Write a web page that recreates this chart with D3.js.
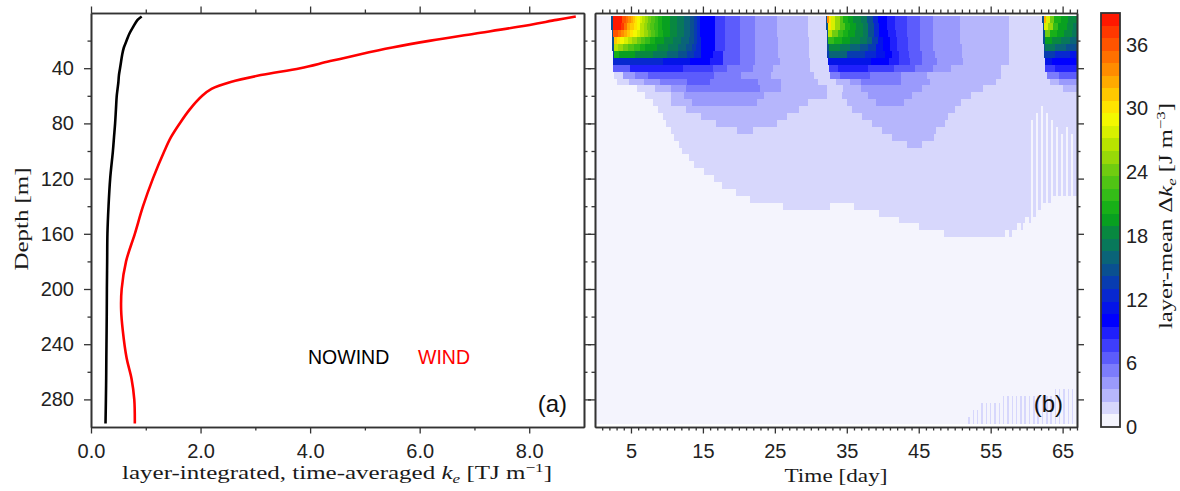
<!DOCTYPE html>
<html>
<head>
<meta charset="utf-8">
<script src="https://cdn.jsdelivr.net/npm/d3@7"></script>
<style>
  body { margin: 0; background: #fff; }
  svg { display: block; }
</style>
</head>
<body>
<div id="chart"></div>
<script>
// ---------------- data ----------------
// panel (a): layer-integrated, time-averaged ke profiles [TJ m^-1]
const profileDepth = [2.5, 5, 10, 15, 20, 25, 30, 35, 40, 45, 50, 55, 60, 70, 80, 90, 100, 120, 140, 160, 180, 200, 215, 230, 250, 265, 280, 297.5];
const nowindKe = [0.925, 0.85, 0.77, 0.70, 0.65, 0.60, 0.57, 0.55, 0.53, 0.51, 0.50, 0.485, 0.47, 0.455, 0.44, 0.42, 0.40, 0.35, 0.32, 0.30, 0.295, 0.29, 0.288, 0.285, 0.28, 0.277, 0.272, 0.265];
const windKe = [8.85, 8.5, 7.8, 7.0, 6.2, 5.5, 4.9, 4.35, 3.82, 3.1, 2.55, 2.2, 2.03, 1.8, 1.62, 1.46, 1.34, 1.13, 0.95, 0.80, 0.64, 0.56, 0.55, 0.58, 0.65, 0.74, 0.79, 0.80];
const seriesNames = ["NOWIND", "WIND"];

// tick labels
const keTicks = [0, 2, 4, 6, 8];
const keMinor = [1, 3, 5, 7];
const depthTicks = [40, 80, 120, 160, 200, 240, 280];
const depthMinor = [20, 60, 100, 140, 180, 220, 260];
const dayTicks = [5, 15, 25, 35, 45, 55, 65];
const cbarTicks = [0, 6, 12, 18, 24, 30, 36];

// panel (b): layer-mean delta ke [J m^-3], 5 m layers
// each row: "startDay:value" runs, a run lasts until the next start
const layerDepth = [5, 10, 15, 20, 25, 30, 35, 40, 45, 50, 55, 60, 65, 70, 75, 80, 85, 90, 95, 100,
  105, 110, 115, 120, 125, 130, 135, 140, 145, 150, 155, 160, 165, 170, 175, 180, 185, 190, 195, 200,
  205, 210, 215, 220, 225, 230, 235, 240, 245, 250, 255, 260, 265, 270, 275, 280, 285, 290, 295];
const layerRuns = [
  "0:0.6 2.2:14.8 2.45:38.4 3.8:36 4.3:34.9 4.6:33.7 5.0:32.5 5.3:31.3 5.6:30.1 5.9:29 6.3:27.8 6.6:26.6 7.0:25.4 7.4:24.2 7.8:23 8.3:21.9 8.8:20.7 9.3:19.5 10.4:18.3 11.4:17.1 12.4:16 13.2:14.8 13.8:13.6 14.2:12.4 14.6:10 16.7:7.7 18.1:6.5 20.2:5.3 22.3:4.1 25.3:3 29.6:1.8 32.1:14.8 32.3:33.7 32.5:30.1 32.8:27.8 33.4:25.4 34.0:23 34.5:20.7 35.2:19.5 35.9:18.3 37.0:17.1 37.8:14.8 38.6:12.4 39.4:10 40.6:8.9 41.7:7.7 43.4:6.5 45.2:5.3 47.0:4.1 50.8:3 57.5:1.8 62.2:14.8 62.4:32.5 62.7:27.8 63.2:24.2 63.8:20.7 64.8:19.5 65.8:18.3",
  "0:0.6 2.25:14.8 2.5:38.4 3.6:37.2 4.0:34.9 4.5:32.5 4.9:31.3 5.4:30.1 5.8:29 6.2:26.6 6.8:25.4 7.2:24.2 7.7:23 8.2:21.9 8.7:20.7 9.3:19.5 10.4:18.3 11.4:17.1 12.4:16 13.2:14.8 13.8:13.6 14.2:12.4 14.6:10 16.7:7.7 18.1:6.5 20.2:5.3 22.3:4.1 25.3:3 29.6:1.8 32.15:14.8 32.35:30.1 32.8:27.8 33.4:25.4 34.1:23 34.7:20.7 35.5:19.5 36.3:18.3 37.2:17.1 38.0:14.8 38.8:12.4 39.5:10 40.6:8.9 41.7:7.7 43.4:6.5 45.2:5.3 47.0:4.1 50.8:3 57.5:1.8 62.25:14.8 62.45:27.8 62.9:25.4 63.6:21.9 64.4:19.5 65.6:18.3 66.5:17.1",
  "0:0.6 2.3:14.8 2.55:36 3.2:34.9 3.6:33.7 4.1:32.5 4.5:31.3 4.9:30.1 5.3:29 5.8:27.8 6.3:26.6 6.8:25.4 7.3:24.2 7.8:23 8.3:21.9 8.8:20.7 9.4:19.5 10.4:18.3 11.4:17.1 12.4:16 13.2:14.8 13.8:13.6 14.2:12.4 14.6:10 16.7:7.7 18.1:6.5 20.2:5.3 22.3:4.1 25.3:3 29.6:1.8 32.2:14.8 32.4:26.6 33.0:24.2 33.8:21.9 34.5:20.7 35.2:19.5 36.2:18.3 37.2:17.1 38.0:14.8 38.8:12.4 39.5:10 40.7:8.9 41.8:7.7 43.4:6.5 45.2:5.3 47.0:4.1 50.8:3 57.5:1.8 62.3:14.8 62.5:24.2 63.2:20.7 64.2:19.5 65.2:18.3 66.3:17.1",
  "0:0.6 2.35:14.8 2.6:31.3 3.0:30.1 3.5:29 4.1:27.8 4.6:26.6 5.2:25.4 5.8:24.2 6.4:23 7.0:21.9 7.6:20.7 8.4:19.5 9.6:18.3 10.8:17.1 12.0:16 13.0:14.8 13.7:13.6 14.2:12.4 14.7:10 16.7:7.7 18.1:6.5 20.2:5.3 22.3:4.1 25.4:3 29.7:1.8 32.2:14.8 32.45:21.9 33.2:20.7 34.3:19.5 35.5:18.3 36.8:17.1 37.8:16 38.5:13.6 39.3:11.2 40.0:10 41.0:8.9 42.0:7.7 43.5:6.5 45.2:5.3 47.0:4.1 50.8:3 57.5:1.8 62.3:14.8 62.55:19.5 63.5:18.3 64.8:17.1 66.0:16",
  "0:0.6 2.4:14.8 2.65:26.6 3.2:25.4 3.9:24.2 4.6:23 5.4:21.9 6.2:20.7 7.0:19.5 8.6:18.3 10.2:17.1 11.6:16 12.7:14.8 13.5:13.6 14.1:12.4 14.8:10 16.7:7.7 18.1:6.5 20.2:5.3 22.3:4.1 25.4:3 29.7:1.8 32.25:14.8 32.5:18.3 34.0:17.1 35.5:16 36.8:14.8 38.0:13.6 39.0:11.2 40.0:10 41.0:8.9 42.0:7.7 43.5:6.5 45.2:5.3 47.0:4.1 51.0:3 57.5:1.8 62.35:14.8 62.6:17.1 64.0:16 65.5:14.8",
  "0:0.6 2.45:13.6 2.7:20.7 3.4:19.5 5.5:18.3 8.0:17.1 10.0:16 11.5:14.8 12.8:13.6 13.8:12.4 14.8:10 16.4:8.9 17.8:6.5 20.2:5.3 22.3:4.1 25.5:3 29.8:1.8 32.3:13.6 32.55:16 35.0:13.6 37.5:12.4 39.0:11.2 40.3:10 41.3:8.9 42.2:7.7 43.7:6.5 45.4:5.3 47.2:4.1 51.0:3 57.5:1.8 62.4:13.6 64.0:12.4 66.0:11.2",
  "0:0.6 2.5:12.4 9.5:11.2 13.2:10 16.0:8.9 17.8:6.5 20.2:5.3 22.3:4.1 25.7:3 29.9:1.8 32.4:11.2 38.3:10 40.8:8.9 42.3:7.7 43.8:6.5 45.5:5.3 47.5:4.1 51.2:3 57.5:1.8 62.5:11.2 63.5:10",
  "0:0.6 2.5:6.5 4.9:8.9 12.2:7.7 16.4:6.5 18.4:5.3 22.0:4.1 24.8:3 29.9:1.8 32.5:7.7 33.8:8.9 38.0:7.7 41.5:6.5 44.5:5.3 47.0:4.1 49.5:3 56.5:1.8 62.6:7.7 64.0:8.9",
  "0:0.6 2.7:1.8 3.9:4.1 5.6:5.3 7.3:6.5 16.6:5.3 20.3:4.1 24.4:3 30.5:1.8 32.6:5.3 34.0:6.5 38.2:5.3 42.5:4.1 46.2:3 56.5:1.8 62.8:5.3 64.5:6.5",
  "0:0.6 3.0:1.8 4.7:3 6.8:4.1 9.1:5.3 12.8:6.5 16.0:5.3 22.6:4.1 25.8:3 31.0:1.8 33.5:3 35.5:4.1 37.0:5.3 42.5:4.1 46.5:3 55.8:1.8 63.2:3 64.5:4.1",
  "0:0.6 5.9:1.8 8.4:3 10.5:4.1 12.6:5.3 23.0:4.1 25.8:3 32.3:1.8 34.5:3 37.0:4.1 45.5:3 54.0:1.8 65.0:3",
  "0:0.6 7.0:1.8 10.5:3 12.4:4.1 23.5:3 32.3:1.8 34.3:3 38.0:4.1 44.0:3 52.3:1.8",
  "0:0.6 8.0:1.8 10.5:3 13.5:4.1 22.5:3 29.6:1.8 35.0:3 39.0:4.1 43.0:3 50.9:1.8",
  "0:0.6 8.7:1.8 12.6:3 28.3:1.8 35.7:3 50.0:1.8 62.0:0.6 62.3:1.8",
  "0:0.6 9.4:1.8 14.7:3 26.7:1.8 37.1:3 49.1:1.8 61.3:0.6 61.6:1.8 62.0:0.6 62.3:1.8 62.7:0.6 63.0:1.8",
  "0:0.6 9.8:1.8 16.8:3 25.3:1.8 38.5:3 48.6:1.8 60.6:0.6 60.9:1.8 61.3:0.6 61.6:1.8 62.0:0.6 62.3:1.8 62.7:0.6 63.0:1.8 63.4:0.6 63.7:1.8",
  "0:0.6 10.5:1.8 19.8:3 21.9:1.8 39.9:3 47.4:1.8 60.6:0.6 60.9:1.8 61.3:0.6 61.6:1.8 62.0:0.6 62.3:1.8 62.7:0.6 63.0:1.8 63.4:0.6 63.7:1.8 64.1:0.6 64.4:1.8 65.5:0.6 65.8:1.8",
  "0:0.6 11.0:1.8 41.3:3 47.1:1.8 60.6:0.6 60.9:1.8 61.3:0.6 61.6:1.8 62.0:0.6 62.3:1.8 62.7:0.6 63.0:1.8 63.4:0.6 63.7:1.8 64.1:0.6 64.4:1.8 64.8:0.6 65.1:1.8 65.5:0.6 65.8:1.8 66.2:0.6 66.5:1.8",
  "0:0.6 11.7:1.8 43.4:3 45.5:1.8 60.6:0.6 60.9:1.8 61.3:0.6 61.6:1.8 62.0:0.6 62.3:1.8 62.7:0.6 63.0:1.8 63.4:0.6 63.7:1.8 64.1:0.6 64.4:1.8 64.8:0.6 65.1:1.8 65.5:0.6 65.8:1.8 66.2:0.6 66.5:1.8",
  "0:0.6 12.1:1.8 60.6:0.6 60.9:1.8 61.3:0.6 61.6:1.8 62.0:0.6 62.3:1.8 62.7:0.6 63.0:1.8 63.4:0.6 63.7:1.8 64.1:0.6 64.4:1.8 64.8:0.6 65.1:1.8 65.5:0.6 65.8:1.8 66.2:0.6 66.5:1.8",
  "0:0.6 13.1:1.8 60.6:0.6 60.9:1.8 61.3:0.6 61.6:1.8 62.0:0.6 62.3:1.8 62.7:0.6 63.0:1.8 63.4:0.6 63.7:1.8 64.1:0.6 64.4:1.8 64.8:0.6 65.1:1.8 65.5:0.6 65.8:1.8 66.2:0.6 66.5:1.8",
  "0:0.6 13.8:1.8 60.6:0.6 60.9:1.8 61.3:0.6 61.6:1.8 62.0:0.6 62.3:1.8 62.7:0.6 63.0:1.8 63.4:0.6 63.7:1.8 64.1:0.6 64.4:1.8 64.8:0.6 65.1:1.8 65.5:0.6 65.8:1.8 66.2:0.6 66.5:1.8",
  "0:0.6 15.2:1.8 60.6:0.6 60.9:1.8 61.3:0.6 61.6:1.8 62.0:0.6 62.3:1.8 62.7:0.6 63.0:1.8 63.4:0.6 63.7:1.8 64.1:0.6 64.4:1.8 64.8:0.6 65.1:1.8 65.5:0.6 65.8:1.8 66.2:0.6 66.5:1.8",
  "0:0.6 16.6:1.8 60.6:0.6 60.9:1.8 61.3:0.6 61.6:1.8 62.0:0.6 62.3:1.8 62.7:0.6 63.0:1.8 63.4:0.6 63.7:1.8 64.1:0.6 64.4:1.8 64.8:0.6 65.1:1.8 65.5:0.6 65.8:1.8 66.2:0.6 66.5:1.8",
  "0:0.6 17.7:1.8 60.6:0.6 60.9:1.8 61.3:0.6 61.6:1.8 62.0:0.6 62.3:1.8 62.7:0.6 63.0:1.8 63.4:0.6 63.7:1.8 64.1:0.6 64.4:1.8 64.8:0.6 65.1:1.8 65.5:0.6 65.8:1.8 66.2:0.6 66.5:1.8",
  "0:0.6 19.6:1.8 60.6:0.6 60.9:1.8 61.3:0.6 61.6:1.8 62.0:0.6 62.3:1.8 62.7:0.6 63.0:1.8 63.4:0.6 63.7:1.8 64.1:0.6 64.4:1.8 64.8:0.6 65.1:1.8 65.5:0.6 65.8:1.8 66.2:0.6 66.5:1.8",
  "0:0.6 21.6:1.8 60.6:0.6 60.9:1.8 61.3:0.6 61.6:1.8 62.0:0.6 62.3:1.8 62.7:0.6 63.0:1.8 63.4:0.6",
  "0:0.6 26.1:1.8 32.7:0.6 36.0:1.8 60.6:0.6 60.9:1.8 61.3:0.6 61.6:1.8 62.0:0.6",
  "0:0.6 39.5:1.8 60.6:0.6 60.9:1.8 61.3:0.6",
  "0:0.6 42.3:1.8 59.8:0.6 60.3:1.8 60.6:0.6",
  "0:0.6 45.1:1.8 58.6:0.6 59.2:1.8 59.5:0.6",
  "0:0.6 48.5:1.8 57.0:0.6 57.6:1.8 57.9:0.6",
  "0:0.6", "0:0.6", "0:0.6", "0:0.6", "0:0.6", "0:0.6", "0:0.6", "0:0.6", "0:0.6", "0:0.6", "0:0.6",
  "0:0.6", "0:0.6", "0:0.6", "0:0.6", "0:0.6", "0:0.6", "0:0.6", "0:0.6", "0:0.6", "0:0.6", "0:0.6",
  "0:0.6 63.9:1.8 64.1:0.6 64.5:1.8 64.7:0.6 65.1:1.8 65.3:0.6 65.7:1.8 65.9:0.6 66.3:1.8 66.5:0.6",
  "0:0.6 56.7:1.8 56.9:0.6 57.3:1.8 57.5:0.6 57.9:1.8 58.1:0.6 58.5:1.8 58.7:0.6 59.1:1.8 59.3:0.6 59.7:1.8 59.9:0.6 60.3:1.8 60.5:0.6 60.9:1.8 61.1:0.6 61.5:1.8 61.7:0.6 62.1:1.8 62.3:0.6 62.7:1.8 62.9:0.6 63.3:1.8 63.5:0.6 63.9:1.8 64.1:0.6 64.5:1.8 64.7:0.6 65.1:1.8 65.3:0.6 65.7:1.8 65.9:0.6 66.3:1.8 66.5:0.6",
  "0:0.6 53.7:1.8 53.9:0.6 54.3:1.8 54.5:0.6 54.9:1.8 55.1:0.6 55.5:1.8 55.7:0.6 56.1:1.8 56.3:0.6 56.7:1.8 56.9:0.6 57.3:1.8 57.5:0.6 57.9:1.8 58.1:0.6 58.5:1.8 58.7:0.6 59.1:1.8 59.3:0.6 59.7:1.8 59.9:0.6 60.3:1.8 60.5:0.6 60.9:1.8 61.1:0.6 61.5:1.8 61.7:0.6 62.1:1.8 62.3:0.6 62.7:1.8 62.9:0.6 63.3:1.8 63.5:0.6 63.9:1.8 64.1:0.6 64.5:1.8 64.7:0.6 65.1:1.8 65.3:0.6 65.7:1.8 65.9:0.6 66.3:1.8 66.5:0.6",
  "0:0.6 52.5:1.8 52.7:0.6 53.1:1.8 53.3:0.6 53.7:1.8 53.9:0.6 54.3:1.8 54.5:0.6 54.9:1.8 55.1:0.6 55.5:1.8 55.7:0.6 56.1:1.8 56.3:0.6 56.7:1.8 56.9:0.6 57.3:1.8 57.5:0.6 57.9:1.8 58.1:0.6 58.5:1.8 58.7:0.6 59.1:1.8 59.3:0.6 59.7:1.8 59.9:0.6 60.3:1.8 60.5:0.6 60.9:1.8 61.1:0.6 61.5:1.8 61.7:0.6 62.1:1.8 62.3:0.6 62.7:1.8 62.9:0.6 63.3:1.8 63.5:0.6 63.9:1.8 64.1:0.6 64.5:1.8 64.7:0.6 65.1:1.8 65.3:0.6 65.7:1.8 65.9:0.6 66.3:1.8 66.5:0.6",
  "0:0.6 51.9:1.8 52.1:0.6 52.5:1.8 52.7:0.6 53.1:1.8 53.3:0.6 53.7:1.8 53.9:0.6 54.3:1.8 54.5:0.6 54.9:1.8 55.1:0.6 55.5:1.8 55.7:0.6 56.1:1.8 56.3:0.6 56.7:1.8 56.9:0.6 57.3:1.8 57.5:0.6 57.9:1.8 58.1:0.6 58.5:1.8 58.7:0.6 59.1:1.8 59.3:0.6 59.7:1.8 59.9:0.6 60.3:1.8 60.5:0.6 60.9:1.8 61.1:0.6 61.5:1.8 61.7:0.6 62.1:1.8 62.3:0.6 62.7:1.8 62.9:0.6 63.3:1.8 63.5:0.6 63.9:1.8 64.1:0.6 64.5:1.8 64.7:0.6 65.1:1.8 65.3:0.6 65.7:1.8 65.9:0.6 66.3:1.8 66.5:0.6"
];

// colour bands, 0 .. 39 J m^-3
const bandColors = ["#f4f4fd", "#d7d7fc", "#b6b6fc", "#9a9afc", "#7c7cfc", "#5c5cfc", "#3e3efc", "#2020fc",
  "#0000ff", "#0414e8", "#0828d0", "#083cb0", "#0a5090", "#0a6478", "#08785a", "#088840", "#08a020",
  "#18b018", "#34bc18", "#50c414", "#70cc10", "#98d808", "#b8e400", "#d8f000", "#f4f800", "#ffe400",
  "#ffc800", "#ffaa00", "#ff8c00", "#ff7000", "#ff5400", "#ff3800", "#ff1800"];

// ---------------- layout ----------------
const W = 1180, H = 491;
const plotTop = 13, plotBottom = 427;
const layerHalf = 2.5;
const ink = "#333";
const serif = "'Liberation Serif', 'Times New Roman', serif";

const svg = d3.select("#chart").append("svg")
  .attr("width", W).attr("height", H)
  .style("font-family", "'Liberation Sans', Arial, Helvetica, sans-serif");

const y = d3.scaleLinear().domain([0, 300]).range([plotTop, plotBottom]);
const x = d3.scaleLinear().domain([0, 9]).range([91, 584]);
const t = d3.scaleLinear().domain([0, 67]).range([595, 1077]);
const cy = d3.scaleLinear().domain([0, 39]).range([plotBottom, plotTop]);
const color = d3.scaleQuantize().domain([0, 39]).range(bandColors);

// ---------- heatmap (b) ----------
const cells = [];
layerRuns.forEach((row, i) => {
  const runs = row.trim().split(/\s+/).map(s => s.split(":").map(Number));
  runs.forEach((r, j) => {
    const end = j < runs.length - 1 ? runs[j + 1][0] : t.domain()[1];
    cells.push({ depth: layerDepth[i], t0: r[0], t1: end, v: r[1] });
  });
});

svg.append("g")
  .selectAll("rect")
  .data(cells)
  .join("rect")
  .attr("x", d => t(d.t0))
  .attr("width", d => t(d.t1) - t(d.t0))
  .attr("y", d => y(d.depth - layerHalf))
  .attr("height", d => y(d.depth + layerHalf) - y(d.depth - layerHalf))
  .attr("fill", d => color(d.v))
  .attr("shape-rendering", "crispEdges");

// ---------- profiles (a) ----------
const line = d3.line()
  .x(d => x(d[1]))
  .y(d => y(d[0]))
  .curve(d3.curveCatmullRom.alpha(0.5));

svg.append("path")
  .datum(profileDepth.map((d, i) => [d, nowindKe[i]]))
  .attr("d", line)
  .attr("fill", "none")
  .attr("stroke", "#000")
  .attr("stroke-width", 2.6);

svg.append("path")
  .datum(profileDepth.map((d, i) => [d, windKe[i]]))
  .attr("d", line)
  .attr("fill", "none")
  .attr("stroke", "#ff0000")
  .attr("stroke-width", 2.6);

// ---------- axes ----------
function styleAxis(g) {
  g.selectAll(".domain").attr("stroke", ink).attr("stroke-width", 1.6);
  g.selectAll(".tick line").attr("stroke", ink).attr("stroke-width", 1.3);
  g.selectAll(".tick text").attr("fill", "#222").style("font-size", "20px")
    .style("font-family", "'Liberation Sans', Arial, Helvetica, sans-serif");
}

function sideAxes(xs, xMajor, xMinor, xFmt, yLabels) {
  const g = svg.append("g");
  // bottom
  g.append("g").attr("transform", `translate(0,${plotBottom})`)
    .call(d3.axisBottom(xs).tickValues(xMinor).tickSize(3.5).tickSizeOuter(0).tickFormat(""));
  g.append("g").attr("transform", `translate(0,${plotBottom})`)
    .call(d3.axisBottom(xs).tickValues(xMajor).tickSize(6.5).tickSizeOuter(0).tickPadding(10).tickFormat(xFmt));
  // top
  g.append("g").attr("transform", `translate(0,${plotTop})`)
    .call(d3.axisTop(xs).tickValues(xMinor).tickSize(3.5).tickSizeOuter(0).tickFormat(""));
  g.append("g").attr("transform", `translate(0,${plotTop})`)
    .call(d3.axisTop(xs).tickValues(xMajor).tickSize(6.5).tickSizeOuter(0).tickFormat(""));
  // left
  const x0 = xs.range()[0], x1 = xs.range()[1];
  g.append("g").attr("transform", `translate(${x0},0)`)
    .call(d3.axisLeft(y).tickValues(depthMinor).tickSize(3.5).tickSizeOuter(0).tickFormat(""));
  g.append("g").attr("transform", `translate(${x0},0)`)
    .call(d3.axisLeft(y).tickValues(depthTicks).tickSize(7).tickSizeOuter(0).tickPadding(10)
      .tickFormat(yLabels ? d3.format("d") : ""));
  // right
  g.append("g").attr("transform", `translate(${x1},0)`)
    .call(d3.axisRight(y).tickValues(depthMinor).tickSize(3.5).tickSizeOuter(0).tickFormat(""));
  g.append("g").attr("transform", `translate(${x1},0)`)
    .call(d3.axisRight(y).tickValues(depthTicks).tickSize(7).tickSizeOuter(0).tickFormat(""));
  styleAxis(g);
  return g;
}

sideAxes(x, keTicks, keMinor, d3.format(".1f"), true);
sideAxes(t, dayTicks, d3.range(1, 68).filter(d => !dayTicks.includes(d)), d3.format("d"), false);

// ---------- colour bar ----------
const cbX = 1101, cbW = 19;
svg.append("g")
  .selectAll("rect")
  .data(bandColors)
  .join("rect")
  .attr("x", cbX)
  .attr("width", cbW)
  .attr("y", c => cy(color.invertExtent(c)[1]))
  .attr("height", c => cy(color.invertExtent(c)[0]) - cy(color.invertExtent(c)[1]))
  .attr("fill", c => c)
  .attr("shape-rendering", "crispEdges");

svg.append("rect")
  .attr("x", cbX).attr("y", plotTop)
  .attr("width", cbW).attr("height", plotBottom - plotTop)
  .attr("fill", "none").attr("stroke", ink).attr("stroke-width", 1.8);

const cbAxis = svg.append("g").attr("transform", `translate(${cbX + cbW},0)`)
  .call(d3.axisRight(cy).tickValues(cbarTicks).tickSize(0).tickPadding(6).tickFormat(d3.format("d")));
cbAxis.select(".domain").remove();
styleAxis(cbAxis);

// ---------- text ----------
function mathText(g, parts) {
  parts.forEach(p => {
    const s = g.append("tspan").text(p.t);
    if (p.it) s.style("font-style", "italic");
    if (p.dy) s.attr("dy", p.dy);
    if (p.small) s.style("font-size", "13px");
  });
}

const xlab = svg.append("text")
  .attr("x", 337).attr("y", 479)
  .attr("text-anchor", "middle")
  .style("font-family", serif).style("font-size", "19px").attr("fill", "#1a1a1a")
  .attr("textLength", 430).attr("lengthAdjust", "spacingAndGlyphs");
mathText(xlab, [
  { t: "layer-integrated, time-averaged " },
  { t: "k", it: true },
  { t: "e", it: true, small: true, dy: 4 },
  { t: " [TJ m", dy: -4 },
  { t: "\u22121", small: true, dy: -7 },
  { t: "]", dy: 7 }
]);

svg.append("text")
  .attr("x", 836).attr("y", 482)
  .attr("text-anchor", "middle")
  .style("font-family", serif).style("font-size", "19px").attr("fill", "#1a1a1a")
  .attr("textLength", 103).attr("lengthAdjust", "spacingAndGlyphs")
  .text("Time [day]");

svg.append("text")
  .attr("transform", "translate(28,219) rotate(-90)")
  .attr("text-anchor", "middle")
  .style("font-family", serif).style("font-size", "19px").attr("fill", "#1a1a1a")
  .attr("textLength", 103).attr("lengthAdjust", "spacingAndGlyphs")
  .text("Depth [m]");

const cblab = svg.append("text")
  .attr("transform", "translate(1172,216) rotate(-90)")
  .attr("text-anchor", "middle")
  .style("font-family", serif).style("font-size", "19px").attr("fill", "#1a1a1a")
  .attr("textLength", 226).attr("lengthAdjust", "spacingAndGlyphs");
mathText(cblab, [
  { t: "layer-mean \u0394" },
  { t: "k", it: true },
  { t: "e", it: true, small: true, dy: 4 },
  { t: " [J m", dy: -4 },
  { t: "\u22123", small: true, dy: -7 },
  { t: "]", dy: 7 }
]);

// legend
svg.append("text").attr("x", 308).attr("y", 364)
  .style("font-size", "19.5px").attr("fill", "#000").text(seriesNames[0]);
svg.append("text").attr("x", 418).attr("y", 364)
  .style("font-size", "19.5px").attr("fill", "#ff0000").text(seriesNames[1]);

// panel tags
svg.append("text").attr("x", 567).attr("y", 412).attr("text-anchor", "end")
  .style("font-size", "24px").attr("fill", "#111").text("(a)");
svg.append("text").attr("x", 1063).attr("y", 412).attr("text-anchor", "end")
  .style("font-size", "24px").attr("fill", "#111").text("(b)");
</script>
</body>
</html>
